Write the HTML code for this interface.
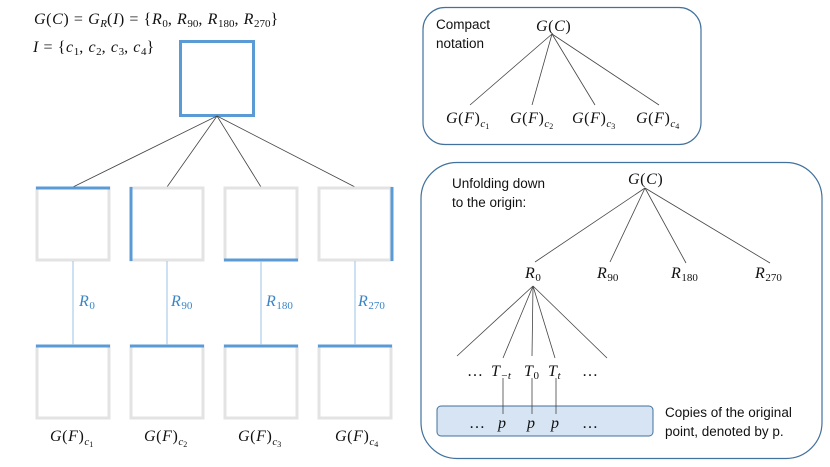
<!DOCTYPE html>
<html><head><style>
html,body{margin:0;padding:0;background:#fff;}
svg{display:block;}
.m{font-family:"Liberation Serif",serif;font-style:italic;font-size:16px;letter-spacing:0.6px;fill:#111;}
.s{font-size:11px;letter-spacing:0;}
.n{font-style:normal;}
.b{fill:#3a85c8;}
.t{font-family:"Liberation Sans",sans-serif;font-size:13.5px;fill:#111;}
</style></head><body>
<svg width="830" height="467" viewBox="0 0 830 467" xmlns="http://www.w3.org/2000/svg">
<text class="m" x="34" y="24">G<tspan class="n">(</tspan>C<tspan class="n">) = </tspan>G<tspan class="s" dy="3">R</tspan><tspan dy="-3" class="n">(</tspan>I<tspan class="n">) = {</tspan>R<tspan class="s n" dy="3">0</tspan><tspan dy="-3" class="n">, </tspan>R<tspan class="s n" dy="3">90</tspan><tspan dy="-3" class="n">, </tspan>R<tspan class="s n" dy="3">180</tspan><tspan dy="-3" class="n">, </tspan>R<tspan class="s n" dy="3">270</tspan><tspan dy="-3" class="n">}</tspan></text>
<text class="m" x="33" y="52">I<tspan class="n"> = {</tspan>c<tspan class="s n" dy="3">1</tspan><tspan dy="-3" class="n">, </tspan>c<tspan class="s n" dy="3">2</tspan><tspan dy="-3" class="n">, </tspan>c<tspan class="s n" dy="3">3</tspan><tspan dy="-3" class="n">, </tspan>c<tspan class="s n" dy="3">4</tspan><tspan dy="-3" class="n">}</tspan></text>
<rect x="180.5" y="41.5" width="73" height="74" fill="none" stroke="#5b9bd5" stroke-width="3"/>
<g stroke="#444" stroke-width="0.8">
<line x1="217" y1="116" x2="73" y2="187"/><line x1="217" y1="116" x2="167" y2="187"/>
<line x1="217" y1="116" x2="261" y2="187"/><line x1="217" y1="116" x2="355" y2="187"/>
</g>
<g fill="none" stroke="#e3e3e3" stroke-width="3">
<rect x="37" y="188" width="72" height="72"/><rect x="131" y="188" width="72" height="72"/>
<rect x="225" y="188" width="72" height="72"/><rect x="319" y="188" width="72" height="72"/>
<rect x="37" y="346" width="72" height="72"/><rect x="131" y="346" width="72" height="72"/>
<rect x="225" y="346" width="72" height="72"/><rect x="319" y="346" width="72" height="72"/>
</g>
<g stroke="#5b9bd5" stroke-width="3">
<line x1="36" y1="188" x2="110" y2="188"/>
<line x1="131" y1="187" x2="131" y2="261"/>
<line x1="224" y1="260" x2="298" y2="260"/>
<line x1="392" y1="187" x2="392" y2="261"/>
<line x1="36" y1="346" x2="110" y2="346"/><line x1="130" y1="346" x2="204" y2="346"/>
<line x1="224" y1="346" x2="298" y2="346"/><line x1="318" y1="346" x2="392" y2="346"/>
</g>
<g stroke="#9dc3e6" stroke-width="1">
<line x1="73" y1="261" x2="73" y2="345"/><line x1="167" y1="261" x2="167" y2="345"/>
<line x1="261" y1="261" x2="261" y2="345"/><line x1="355" y1="261" x2="355" y2="345"/>
</g>
<text class="m b" x="79" y="306">R<tspan class="s n" dy="3">0</tspan></text>
<text class="m b" x="171" y="306">R<tspan class="s n" dy="3">90</tspan></text>
<text class="m b" x="266" y="306">R<tspan class="s n" dy="3">180</tspan></text>
<text class="m b" x="358" y="306">R<tspan class="s n" dy="3">270</tspan></text>
<text class="m" x="50" y="441">G<tspan class="n">(</tspan>F<tspan class="n">)</tspan><tspan class="s" dy="4">c</tspan><tspan class="s n" dy="2" style="font-size:8px">1</tspan></text>
<text class="m" x="144" y="441">G<tspan class="n">(</tspan>F<tspan class="n">)</tspan><tspan class="s" dy="4">c</tspan><tspan class="s n" dy="2" style="font-size:8px">2</tspan></text>
<text class="m" x="238" y="441">G<tspan class="n">(</tspan>F<tspan class="n">)</tspan><tspan class="s" dy="4">c</tspan><tspan class="s n" dy="2" style="font-size:8px">3</tspan></text>
<text class="m" x="335" y="441">G<tspan class="n">(</tspan>F<tspan class="n">)</tspan><tspan class="s" dy="4">c</tspan><tspan class="s n" dy="2" style="font-size:8px">4</tspan></text>

<rect x="423" y="7.5" width="278" height="137" rx="22" fill="none" stroke="#41719c" stroke-width="1.2"/>
<text class="t" x="436" y="29">Compact</text>
<text class="t" x="436" y="48">notation</text>
<text class="m" x="536" y="31">G<tspan class="n">(</tspan>C<tspan class="n">)</tspan></text>
<g stroke="#444" stroke-width="0.8">
<line x1="552" y1="34" x2="470" y2="105"/><line x1="552" y1="34" x2="532" y2="105"/>
<line x1="552" y1="34" x2="595" y2="105"/><line x1="552" y1="34" x2="659" y2="105"/>
</g>
<text class="m" x="446" y="123">G<tspan class="n">(</tspan>F<tspan class="n">)</tspan><tspan class="s" dy="4">c</tspan><tspan class="s n" dy="2" style="font-size:8px">1</tspan></text>
<text class="m" x="510" y="123">G<tspan class="n">(</tspan>F<tspan class="n">)</tspan><tspan class="s" dy="4">c</tspan><tspan class="s n" dy="2" style="font-size:8px">2</tspan></text>
<text class="m" x="572" y="123">G<tspan class="n">(</tspan>F<tspan class="n">)</tspan><tspan class="s" dy="4">c</tspan><tspan class="s n" dy="2" style="font-size:8px">3</tspan></text>
<text class="m" x="636" y="123">G<tspan class="n">(</tspan>F<tspan class="n">)</tspan><tspan class="s" dy="4">c</tspan><tspan class="s n" dy="2" style="font-size:8px">4</tspan></text>

<rect x="421" y="162.5" width="401" height="296" rx="36" fill="none" stroke="#41719c" stroke-width="1.2"/>
<text class="t" x="452" y="188">Unfolding down</text>
<text class="t" x="452" y="207">to the origin:</text>
<text class="m" x="628" y="184">G<tspan class="n">(</tspan>C<tspan class="n">)</tspan></text>
<g stroke="#444" stroke-width="0.8">
<line x1="645" y1="188" x2="535" y2="262"/><line x1="645" y1="188" x2="610" y2="262"/>
<line x1="645" y1="188" x2="686" y2="263"/><line x1="645" y1="188" x2="770" y2="263"/>
<line x1="533" y1="286" x2="457" y2="356"/><line x1="533" y1="286" x2="503" y2="358"/>
<line x1="533" y1="286" x2="532" y2="356"/><line x1="533" y1="286" x2="555" y2="358"/>
<line x1="533" y1="286" x2="607" y2="358"/>
</g>
<text class="m" x="525" y="278">R<tspan class="s n" dy="3">0</tspan></text>
<text class="m" x="597" y="278">R<tspan class="s n" dy="3">90</tspan></text>
<text class="m" x="671" y="278">R<tspan class="s n" dy="3">180</tspan></text>
<text class="m" x="755" y="278">R<tspan class="s n" dy="3">270</tspan></text>
<text class="m n" x="467" y="376">…</text>
<text class="m" x="491" y="376">T<tspan class="s" dy="3">−t</tspan></text>
<text class="m" x="524" y="376">T<tspan class="s n" dy="3">0</tspan></text>
<text class="m" x="548" y="376">T<tspan class="s" dy="3">t</tspan></text>
<text class="m n" x="582" y="376">…</text>
<rect x="437" y="406" width="216" height="30" rx="4" fill="#d6e4f3" stroke="#41719c" stroke-width="1"/>
<g stroke="#444" stroke-width="0.8">
<line x1="503" y1="378" x2="503" y2="414"/><line x1="532" y1="378" x2="532" y2="414"/>
<line x1="556" y1="378" x2="556" y2="414"/>
</g>
<text class="m n" x="469" y="428">…</text>
<text class="m" x="498" y="428">p</text>
<text class="m" x="527" y="428">p</text>
<text class="m" x="551" y="428">p</text>
<text class="m n" x="582" y="428">…</text>
<text class="t" x="665" y="417">Copies of the original</text>
<text class="t" x="665" y="436">point, denoted by p.</text>
</svg>
</body></html>
